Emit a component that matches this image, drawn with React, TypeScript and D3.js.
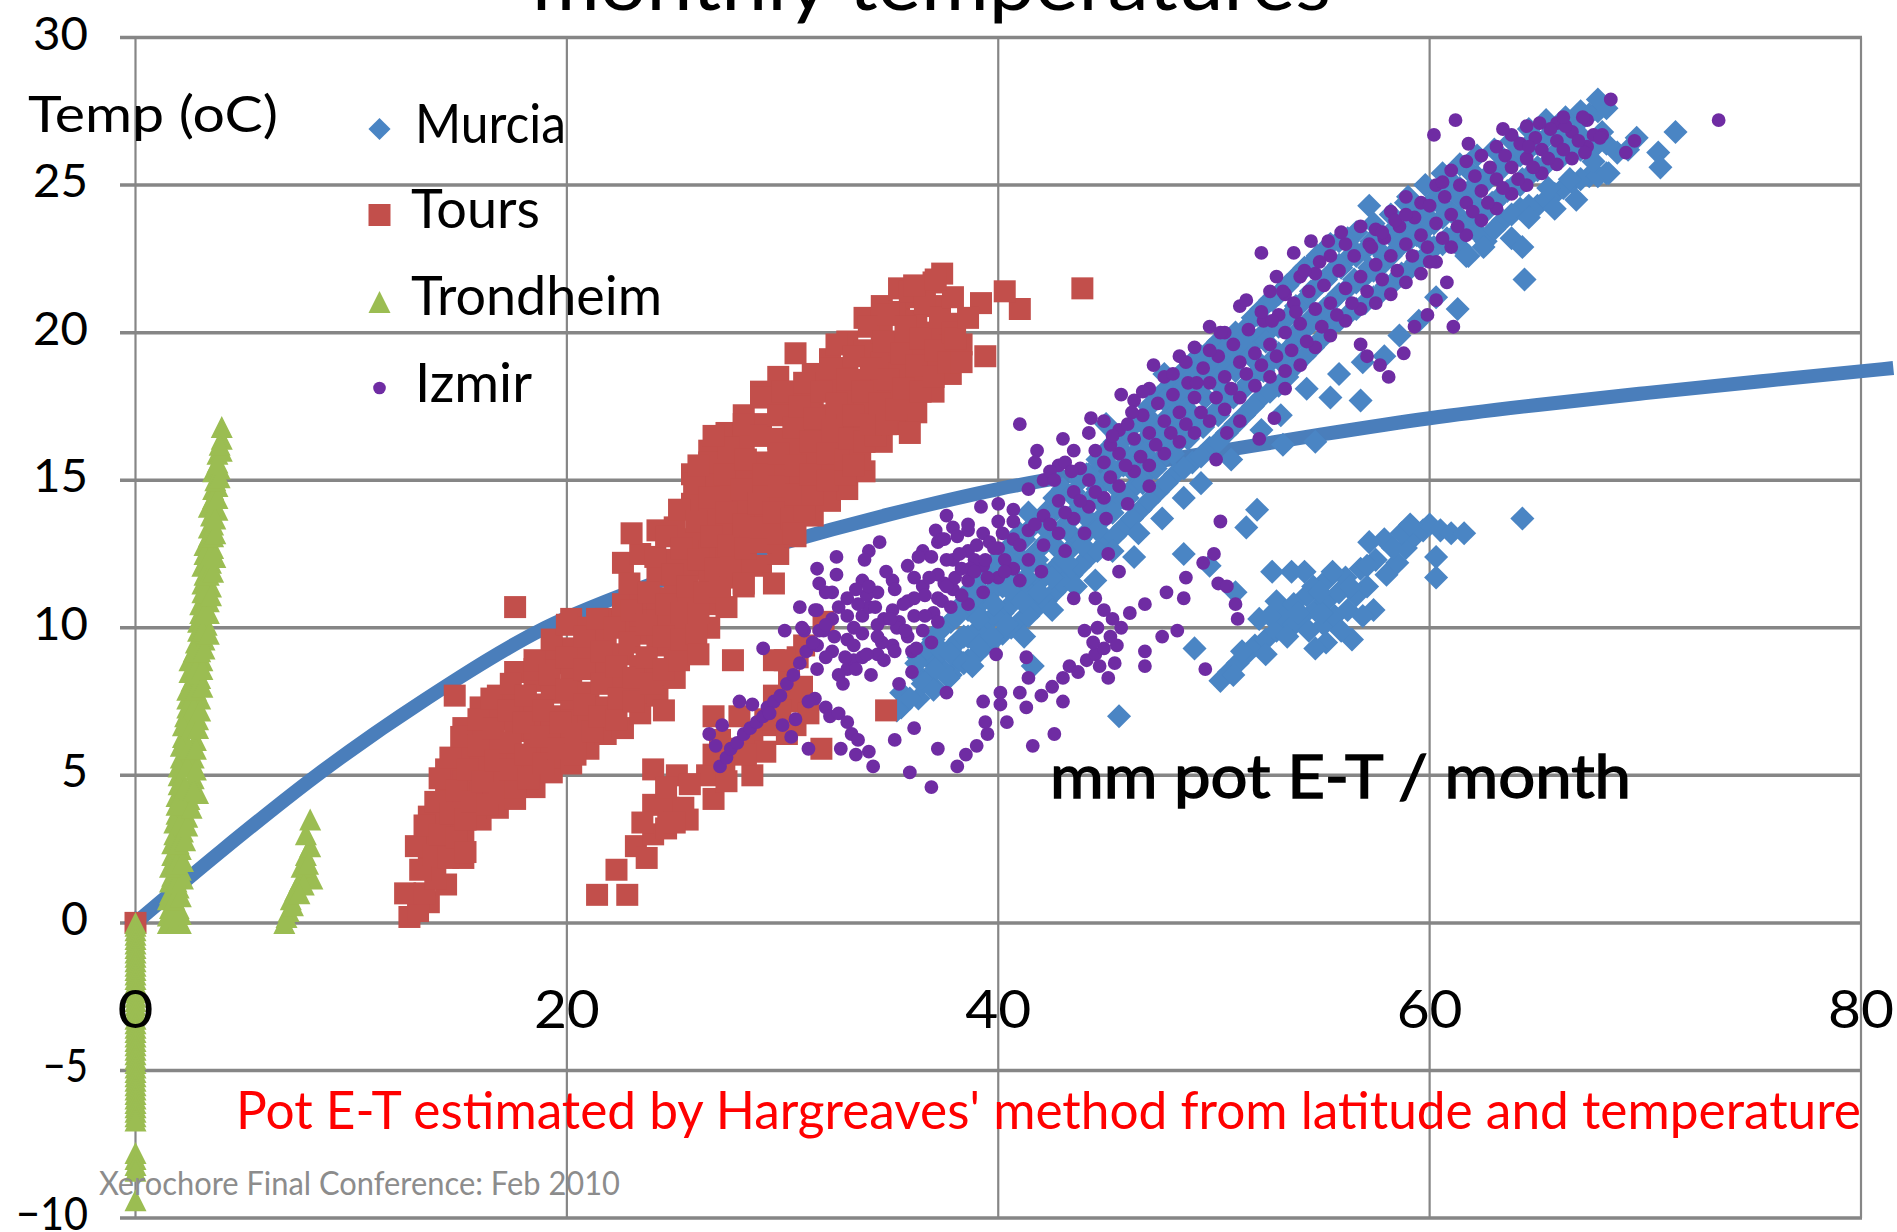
import React from 'react';
import * as d3 from 'd3';

const width = 1897;
const height = 1232;

const xTicks = [0, 20, 40, 60, 80];
const yTicks = [30, 25, 20, 15, 10, 5, 0, -5, -10];

const curve = [[0, 0], [4, 2.45], [8.4, 5], [13.5, 7.6], [19, 10], [24, 11.5], [29.7, 12.8], [35, 13.85], [40, 14.7], [45, 15.35], [50, 15.95], [55, 16.55], [60, 17.1], [65, 17.55], [70, 17.95], [76, 18.4], [81.5, 18.8]];

// columns: [x, y, y, y...]
const murciaColumns = [
  [0, 0],
  [35.5, 7.3, 7.8], [36.3, 7.6, 8.4, 9.0], [37, 8, 8.8, 9.6], [37.8, 8.4, 9.3, 10.2], [38.6, 8.9, 9.7, 10.6, 11.2], [39.4, 9.4, 10.2, 11.1, 12.0], [40.2, 9.8, 10.5, 11.4, 12.3], [41, 10.2, 11.3, 12.4, 13.2], [41.8, 10.7, 11.5, 12.6, 13.6], [42.6, 11.2, 12.0, 13.2, 14.4], [43.4, 11.8, 12.7, 13.7, 14.5], [44.2, 12.4, 13.3, 14.3, 15.2], [45, 12.9, 13.8, 15, 15.9], [45.8, 13.4, 14.4, 15.5, 16.4], [46.6, 14, 15.1, 16.2, 17], [47.4, 14.6, 15.6, 16.8, 17.8], [48.2, 15.2, 16.2, 17.4, 18.4], [49, 15.6, 16.7, 17.9, 19], [49.8, 16.1, 17.1, 18.5, 19.4], [50.6, 16.6, 17.7, 18.9, 19.8], [51.4, 17.2, 18.1, 19.3, 20.1], [52.2, 17.8, 18.9, 19.9, 20.8], [53, 18.2, 19.1, 20.2, 21.3], [53.8, 18.9, 19.7, 20.8, 21.9], [54.6, 19.5, 20.4, 21.4, 22.4], [55.4, 20.2, 21, 22, 23], [56.2, 20.6, 21.5, 22.5, 23.2], [57, 21, 21.9, 22.8], [57.8, 21.4, 22.3, 23.3], [58.6, 21.9, 22.9, 23.6], [59.4, 22.4, 23.3, 24], [60.2, 22.9, 23.7, 24.5], [61, 23.2, 24.1, 25], [61.8, 22.6, 23.6, 24.7, 25.5], [62.6, 23.1, 24.1, 25.1], [63.4, 23.8, 24.7, 25.6], [64.2, 24.2, 25, 26], [65, 24.3, 25.5, 26.4], [65.8, 24.7, 25.9, 26.8], [66.6, 25.1, 26.2, 27], [67.4, 25.3, 26.3, 27.4], [68.2, 25.4, 26.4, 27.6],
];

const murciaFill = [
  [36.7, 8.2, 9.3], [37.4, 8.6, 9.2, 10], [38.2, 8.9, 9.6, 10.7], [39, 9.1, 9.9, 10.7, 11.6], [39.8, 9.6, 10.4, 11.3, 12.2], [40.6, 10, 10.8, 11.8, 12.8], [41.4, 10.4, 11.2, 12.1, 13.3, 13.9], [42.2, 10.9, 11.8, 12.9, 13.9], [43, 11.5, 12.3, 13.4, 14.7], [43.8, 12.1, 13, 14.1, 15], [44.6, 12.6, 13.6, 14.7, 15.7], [45.4, 13.1, 14.2, 15.3, 16.3], [46.2, 13.7, 14.7, 15.8, 16.8], [47, 14.3, 15.3, 16.5, 17.5], [47.8, 14.9, 15.9, 17.1, 18.1], [48.6, 15.4, 16.5, 17.7, 18.7], [49.4, 15.8, 16.9, 18.2, 19.2], [50.2, 16.3, 17.4, 18.7, 19.7], [51, 16.9, 17.9, 19.1, 20], [51.8, 17.5, 18.5, 19.6, 20.5], [52.6, 18, 19, 20.1, 21.1], [53.4, 18.5, 19.4, 20.5, 21.6], [54.2, 19.2, 20.1, 21.1, 22.2], [55, 19.8, 20.7, 21.7, 22.7], [55.8, 20.4, 21.3, 22.3, 23.1], [56.6, 20.8, 21.7, 22.6, 23.4], [57.4, 21.2, 22.1, 23, 23.7], [58.2, 21.6, 22.6, 23.4, 24], [59, 22.1, 23.1, 23.8, 24.6], [59.8, 22.6, 23.5, 24.2, 25], [60.6, 23, 23.9, 24.8, 25.4], [61.4, 22.9, 23.9, 24.9, 25.7], [62.2, 23.4, 24.3, 25.3, 26], [63, 23.5, 24.4, 25.4, 26.2], [63.8, 24, 24.9, 25.8, 26.5], [64.6, 24.3, 25.3, 26.2, 26.9], [65.4, 24.5, 25.7, 26.6, 27.2], [66.2, 24.9, 26, 26.9], [67, 25.2, 26.2, 27.2], [67.8, 25.3, 26.4, 27.5],
];

const murciaMain = [
  [35.3, 7.2], [35.9, 7.6], [36.5, 8.1], [36.2, 8.8], [37.1, 8.6], [37.0, 7.9], [37.7, 8.3], [37.8, 9.1], [38.4, 8.8], [38.4, 9.7], [37.3, 9.9], [38.1, 10.4], [39.1, 9.4], [39.1, 10.3], [39.7, 9.7], [39.0, 11.1], [39.8, 10.8], [40.4, 10.1], [40.5, 11.3], [39.8, 11.8], [41.1, 10.9], [40.6, 12.2], [41.3, 11.7], [41.9, 11.2], [41.8, 12.3], [41.2, 13.0], [42.5, 11.7], [42.6, 12.8], [42.0, 13.5], [43.2, 12.2], [43.2, 13.3], [42.7, 14.0], [43.9, 12.8], [44.0, 13.8], [43.5, 14.6], [44.6, 13.3], [44.7, 14.3], [44.1, 15.2], [45.3, 13.9], [45.4, 14.8], [44.9, 15.7], [46.0, 14.4], [46.1, 15.4], [45.6, 16.1], [46.7, 14.9], [46.8, 15.9], [47.3, 15.4], [47.5, 16.4], [47.0, 17.1], [48.1, 15.9], [48.2, 16.9], [47.7, 17.7], [48.8, 16.4], [48.9, 17.3], [48.5, 18.1], [49.5, 16.8], [49.6, 17.8], [49.1, 18.6], [50.2, 17.2], [50.3, 18.2], [49.9, 19.1], [50.9, 17.8], [51.0, 18.7], [50.6, 19.5], [51.6, 18.3], [51.7, 19.2], [51.4, 19.8], [52.3, 18.7], [52.4, 19.7], [52.0, 20.6], [53.0, 19.3], [53.1, 20.3], [52.7, 21.1], [53.7, 19.9], [53.8, 20.9], [53.4, 21.6], [54.4, 20.4], [54.5, 21.4], [54.1, 22.1], [55.1, 20.8], [55.2, 21.8], [54.8, 22.6], [55.8, 21.3], [55.9, 22.2], [56.5, 21.8], [56.6, 22.7], [56.2, 23.1], [57.2, 22.2], [57.3, 23.1], [57.9, 22.6], [58.0, 21.6], [58.6, 23.0], [58.7, 22.0], [59.3, 23.4], [59.4, 22.4], [60.0, 23.8], [60.1, 22.8], [60.7, 24.2], [60.8, 23.2], [61.4, 24.6], [61.5, 23.6], [60.9, 25.2], [62.1, 25.0], [62.2, 24.0], [62.8, 25.4], [62.9, 24.4], [63.5, 25.8], [63.6, 24.8], [64.2, 26.2], [64.3, 25.2], [64.9, 26.6], [65.0, 25.6], [65.6, 27.0], [65.7, 26.0], [66.3, 27.3], [66.4, 26.3], [67.0, 27.5], [67.1, 26.6], [67.8, 27.9], [68.0, 26.8], [68.7, 26.1], [67.6, 25.8], [66.5, 25.2], [65.5, 24.9], [64.6, 23.9], [63.8, 23.2], [62.5, 22.9], [61.7, 22.6], [64.3, 22.9], [65.8, 24.2], [66.8, 24.5], [68.3, 25.4], [69.2, 26.2],
];

const murciaOutliers = [
  [71.4, 26.8], [70.6, 26.1], [70.7, 25.6], [69.6, 26.6], [64.4, 21.8], [61.3, 20.8], [57.2, 24.3], [58.9, 24.4], [60.5, 24.4], [59.6, 23.2], [45, 16.9], [47.7, 18.6], [45, 16], [51.5, 13.4], [52, 14], [49.8, 12.1], [48.6, 12.5], [46.3, 12.4], [44.5, 11.6], [41.6, 8.7], [38.8, 8.7], [45.6, 7], [49.1, 9.3], [51, 11.2], [54.7, 16.3], [53.2, 16.2], [56.8, 17.7], [55.8, 18.6], [55.4, 17.8], [57.9, 19.2], [58.6, 19.9], [59.5, 20.4], [60.3, 21.2], [56.9, 19.0], [54.3, 18.1], [53.1, 17.2], [52.2, 16.7], [50.8, 15.7], [49.4, 14.9], [48.6, 14.4], [47.6, 13.7], [46.5, 13.2], [45.3, 12.6], [43.6, 11.4], [42.5, 10.6], [41.2, 9.7],
];

const murciaLower = [
  [50.3, 8.2], [50.7, 8.5], [51.1, 8.8], [51.5, 9.1], [51.9, 9.4], [52.4, 9.6], [52.1, 10.3], [52.9, 9.9], [53.2, 10.4], [52.9, 10.9], [53.7, 10.1], [54.1, 10.4], [54.4, 9.9], [54.7, 10.6], [54.3, 11.1], [55.1, 10.1], [55.2, 10.9], [55.6, 10.4], [55.8, 11.2], [55.2, 11.6], [56.2, 10.6], [56.1, 11.7], [55.5, 11.9], [56.6, 11.1], [56.8, 12], [57.1, 11.4], [57.4, 10.6], [56.4, 9.6], [55.2, 9.5], [54.7, 9.3], [53.6, 11.9], [52.7, 11.9], [54.2, 11.9], [57.5, 12.3], [58, 11.8], [58.5, 12.2], [58.9, 12.7], [59.3, 13.1], [59.7, 13.3], [60, 13.5], [60.5, 13.3], [61, 13.2], [61.6, 13.2], [64.3, 13.7], [60.3, 12.4], [60.3, 11.7], [57.9, 13], [57.2, 12.9], [50.9, 8.4], [51.3, 9.2], [52.4, 9.1], [52.6, 10.4], [53.4, 9.7], [53.7, 10.8], [54.6, 11.4], [55, 10.5], [55.9, 9.9], [56.3, 11.4], [56.9, 10.4], [57.1, 12.1], [58.3, 12.7], [58.7, 13.2], [59.1, 13.5], [53.9, 10.5], [54.9, 11.2],
];

const toursColumns = [
  [0, 0],
  [13.6, 0.7, 1.9, 2.8, 3.6], [14.4, 1.3, 2.6, 3.4, 4.3, 5.2], [15.2, 2.2, 3.1, 3.9, 4.8, 5.7, 6.6], [16, 3.5, 4.4, 5.4, 6.4, 7.3], [16.8, 3.9, 4.9, 5.9, 6.9, 7.7], [17.6, 4.2, 5.6, 6.5, 7.5, 8.5], [18.5, 4.6, 5.3, 6.0, 6.6, 7.4, 8.2, 8.6], [19.3, 5.1, 5.6, 6.5, 7.0, 7.8, 8.8, 9.3], [20.2, 5.4, 6.1, 6.9, 7.6, 8.3, 9.3, 10.3], [21, 5.9, 6.8, 7.8, 8.9, 9.4, 10], [21.8, 6.4, 7.3, 8.5, 9.7, 10.3], [22.6, 6.6, 7.9, 8.3, 9.1, 10.2, 10.8, 12.2], [23.4, 7.1, 7.8, 8.7, 9.8, 10.4, 11, 12.5], [24.2, 7.7, 8.4, 9.4, 10.3, 11, 11.8, 13.3], [25, 8.3, 9.2, 10.2, 11.2, 12.3, 13.4], [25.8, 9.4, 10, 11, 12, 13, 14.2, 15.2], [26.6, 10, 10.8, 11.7, 12.6, 13.7, 15, 16], [27.4, 10.7, 11.7, 12.5, 13.4, 14.5, 15.6, 16.6], [28.2, 11.4, 12.2, 13.1, 14.1, 15.2, 16.3, 17.2], [29, 12.1, 13, 13.8, 14.7, 15.6, 16.9, 18], [29.8, 12.5, 13.5, 14.4, 15.4, 16.4, 17.6, 18.5], [30.6, 13.1, 14.1, 15, 16.1, 17.2, 18.0], [31.4, 13.8, 15, 15.8, 16.8, 17.6, 18.6], [32.2, 14.3, 15.4, 16.3, 17.2, 18.3, 19.1], [33, 14.7, 15.9, 16.9, 17.8, 18.8, 19.7], [33.8, 15.3, 16.7, 17.5, 18.4, 19.4, 20.5], [34.6, 16.3, 17.2, 18.1, 19, 20, 20.9], [35.4, 16.9, 17.8, 18.6, 19.6, 20.7, 21.5], [36.2, 17.3, 18.4, 19.3, 20.4, 21.2], [37, 18, 18.9, 20, 20.9, 21.7], [37.8, 18.6, 19.4, 20.3],
];

const toursMain = [
  [12.7, 0.2], [13.1, 0.4], [12.5, 1.0], [13.4, 1.0], [13.9, 1.5], [13.2, 1.8], [13.0, 2.6], [13.8, 2.3], [14.5, 2.2], [13.4, 3.3], [14.1, 3.0], [14.9, 2.9], [13.9, 4.1], [14.6, 3.7], [15.3, 3.5], [14.1, 4.9], [14.9, 4.5], [15.6, 4.1], [16.3, 4.0], [14.6, 5.6], [15.4, 5.2], [16.1, 4.8], [16.9, 4.4], [17.6, 4.6], [15.1, 6.3], [15.9, 6.0], [16.7, 5.5], [17.4, 5.2], [18.2, 4.9], [15.9, 6.9], [16.6, 6.6], [17.4, 6.1], [18.1, 5.7], [18.9, 5.4], [16.5, 7.6], [17.3, 7.2], [18.0, 6.8], [18.8, 6.3], [19.6, 5.9], [20.4, 5.7], [17.4, 8.1], [18.1, 7.7], [18.9, 7.2], [19.7, 6.8], [20.4, 6.4], [21.2, 6.5], [18.5, 8.9], [19.2, 8.4], [20.0, 7.9], [20.8, 7.4], [21.5, 7.0], [22.3, 6.9], [19.3, 9.6], [20.0, 9.0], [20.8, 8.6], [21.6, 8.1], [22.4, 7.6], [23.1, 7.5], [20.0, 10.1], [20.8, 9.7], [21.6, 9.2], [22.3, 8.7], [23.1, 8.3], [23.9, 8.1], [21.4, 10.3], [22.2, 10.0], [22.9, 9.5], [23.7, 9.0], [24.5, 8.6], [25.2, 8.9], [23.0, 10.6], [23.7, 10.1], [24.5, 9.7], [25.3, 9.6], [26.0, 9.8], [22.9, 11.5], [23.8, 11.2], [24.6, 10.8], [25.3, 10.5], [26.1, 10.5], [24.1, 12.4], [24.9, 11.8], [25.6, 11.4], [26.4, 11.2], [27.1, 11.4], [24.6, 13.1], [25.3, 12.7], [26.1, 12.3], [26.9, 12.0], [27.6, 12.1], [25.2, 14.0], [26.0, 13.6], [26.7, 13.1], [27.5, 12.8], [28.3, 12.7], [29.0, 12.9], [25.9, 14.9], [26.6, 14.4], [27.4, 13.9], [28.2, 13.5], [29.0, 13.4], [29.8, 13.2], [26.6, 15.6], [27.3, 15.2], [28.1, 14.7], [28.9, 14.2], [29.6, 13.9], [30.4, 13.7], [31.0, 14.0], [27.5, 16.1], [28.3, 15.7], [29.1, 15.2], [29.8, 14.8], [30.6, 14.5], [31.4, 14.5], [28.2, 16.9], [29.0, 16.5], [29.8, 15.9], [30.6, 15.5], [31.3, 15.2], [32.1, 15.0], [32.9, 15.2], [29.0, 17.8], [29.8, 17.2], [30.5, 16.8], [31.3, 16.3], [32.1, 15.9], [32.9, 15.7], [33.6, 15.7], [30.0, 18.0], [30.8, 17.5], [31.5, 17.1], [32.3, 16.7], [33.1, 16.4], [33.8, 16.3], [34.3, 16.5], [31.0, 18.3], [31.8, 18.0], [32.5, 17.6], [33.3, 17.2], [34.1, 16.9], [34.8, 16.9], [32.2, 18.8], [33.0, 18.4], [33.7, 18.0], [34.5, 17.6], [35.3, 17.4], [36.0, 17.6], [32.5, 19.6], [33.3, 19.2], [34.1, 18.8], [34.9, 18.4], [35.6, 18.1], [36.4, 18.0], [34.0, 20.2], [34.7, 19.7], [35.5, 19.3], [36.2, 18.9], [37.0, 18.5], [34.9, 20.6], [35.7, 20.2], [36.4, 19.8], [37.1, 19.4], [37.7, 19.0], [35.9, 21.4], [36.6, 21.0], [37.3, 20.5], [37.9, 20.0], [38.3, 19.6],
];

const toursLower = [
  [21.4, 0.95], [22.8, 0.95], [22.3, 1.8], [23.2, 2.6], [23.7, 2.2], [24, 3], [24.6, 3.2], [25.6, 3.5], [24, 4], [24.7, 3.9], [25.4, 3.9], [26.8, 4.2], [26.5, 5], [25.1, 5], [24, 5.2], [25.7, 4.7], [27.7, 5.9], [28.6, 5], [26.8, 5.7], [27.3, 5.4], [26.8, 7], [27.1, 6.2], [28, 7], [28.6, 6.2], [29.2, 5.8], [29.6, 6.7], [30.2, 6.4], [30.6, 6.7], [29.6, 7.7], [30.5, 7.5], [31.2, 7.1], [30.3, 8.2], [29.6, 8.9], [30.7, 9.0], [31, 9.4], [31.9, 10.2], [29.2, 6.9], [28.3, 5.7], [27.4, 4.8], [24.6, 4.6], [23.5, 3.4], [25, 3.4], [29.9, 7.2], [30.9, 8.0], [30.1, 8.9],
];

const toursOutliers = [
  [34.8, 7.2], [26.1, 9.1], [27.7, 8.9], [24.5, 7.2], [28.2, 11.5], [29.6, 11.5], [30.5, 13.2], [33.3, 15.5], [35.9, 16.6], [30.6, 19.3], [26.8, 16.5], [26.1, 15.5], [23, 13.2], [17.6, 10.7], [14.8, 7.7], [15.3, 2.4], [43.9, 21.5], [41, 20.8], [40.3, 21.4], [38.3, 19], [37.4, 22], [36.1, 21.6], [39.2, 21], [38, 19.8], [31.8, 5.9], [38.6, 20.5], [37.9, 21.2], [39.4, 19.2], [37.1, 21.8],
];

const trondheimMain = [
  [0, 0], [1.5, 0], [1.9, 0], [2.1, 0], [1.6, 0.5], [2.0, 0.5], [1.6, 1.0], [2.0, 1.2], [1.7, 1.6], [2.1, 1.8], [1.7, 2.3], [2.1, 2.5], [1.8, 3.0], [2.2, 3.1], [1.9, 3.7], [2.4, 3.6], [1.9, 4.3], [2.5, 4.2], [2.0, 5.0], [2.7, 4.9], [2.9, 4.4], [2.1, 5.6], [2.7, 5.6], [2.2, 6.3], [2.8, 6.2], [2.3, 7.0], [2.9, 6.9], [2.4, 7.6], [3.0, 7.6], [2.6, 8.2], [3.0, 8.3], [2.5, 8.9], [3.1, 8.9], [2.8, 9.5], [3.2, 9.6], [2.9, 10.2], [3.3, 10.1], [3.0, 10.8], [3.4, 10.9], [3.1, 11.5], [3.5, 11.4], [3.1, 12.1], [3.5, 12.2], [3.2, 12.8], [3.6, 12.7], [3.4, 13.4], [3.6, 13.5], [3.4, 14.1], [3.8, 14.0], [3.6, 14.7], [3.8, 14.8], [3.6, 15.3], [3.9, 15.4], [3.8, 15.9], [4.0, 16.0], [4.0, 16.4], [4.0, 16.8],
  [1.5, 0.25], [1.8, 0.3], [2.1, 0.3], [1.5, 0.8], [1.8, 0.8], [2.1, 0.9], [1.6, 1.4], [1.9, 1.4], [2.2, 1.5], [1.6, 1.9], [1.9, 2.0], [2.2, 2.1], [1.7, 2.7], [2.0, 2.7], [2.3, 2.8], [1.8, 3.4], [2.1, 3.4], [2.4, 3.3], [1.9, 4.0], [2.2, 4.0], [2.6, 3.9], [2.0, 4.7], [2.3, 4.6], [2.7, 4.5], [2.0, 5.3], [2.4, 5.3], [2.8, 5.2], [2.1, 6.0], [2.5, 5.9], [2.8, 5.9], [2.2, 6.7], [2.6, 6.6], [2.9, 6.6], [2.4, 7.3], [2.7, 7.3], [3.0, 7.2], [2.4, 7.9], [2.8, 7.9], [3.1, 8.0], [2.5, 8.5], [2.8, 8.6], [3.1, 8.6], [2.7, 9.2], [3.0, 9.2], [3.2, 9.3], [2.9, 9.9], [3.1, 9.9], [3.4, 9.8], [3.0, 10.5], [3.2, 10.5], [3.4, 10.5], [3.1, 11.2], [3.3, 11.2], [3.5, 11.1], [3.2, 11.8], [3.4, 11.8], [3.6, 11.9], [3.2, 12.5], [3.5, 12.5], [3.7, 12.4], [3.4, 13.1], [3.6, 13.1], [3.7, 13.2], [3.5, 13.8], [3.7, 13.7], [3.6, 14.4], [3.8, 14.4], [3.7, 15.0], [3.9, 15.1], [3.8, 15.6], [3.9, 16.2],
];

const trondheimSmall = [
  [6.9, 0], [7.1, 0.4], [7.2, 0.8], [7.4, 1.1], [7.6, 1.4], [8, 1.6], [8.2, 1.5], [7.7, 1.9], [7.9, 2.3], [8.1, 2.6], [7.9, 3], [8.1, 3.5], [7.0, 0.2], [7.3, 0.6], [7.8, 1.3], [8.0, 2.0], [7.6, 1.0],
];

const trondheimColumn = [
  -0.1, -0.25, -0.4, -0.55, -0.7, -0.85, -1, -1.15, -1.3, -1.45, -1.6, -1.75, -1.9, -2.05, -2.2, -2.35, -2.5, -2.65, -2.8, -2.95, -3.1, -3.25, -3.4, -3.55, -3.7, -3.85, -4, -4.15, -4.3, -4.45, -4.6, -4.75, -4.9, -5.05, -5.2, -5.35, -5.5, -5.65, -5.8, -5.95, -6.1, -6.25, -6.4, -6.55, -6.7, -7.8, -8, -8.2, -8.4, -9.4,
];

const izmirColumns = [
  [31.6, 8.6, 9.4, 10.6], [32.3, 9.2, 10.3, 11.2], [33, 8.6, 9.6, 11], [33.7, 9.8, 10.4, 11.6], [34.4, 9.1, 10.1, 11.2], [35.1, 9.4, 10.6, 11.6], [35.8, 9.7, 10.9, 12.1], [36.5, 9.9, 11.4, 12.6], [37.2, 11, 11.8, 12.9], [37.9, 11.3, 12.3, 13.4], [38.6, 10.8, 11.6, 12.6, 13.3], [39.3, 11.2, 12.1, 13.2], [40, 11.7, 12.7, 13.6, 14.2], [40.7, 12, 13, 14], [41.4, 12.3, 13.3, 14.7], [42.1, 12.8, 13.8, 15], [42.8, 13.2, 14.3, 15.5], [43.5, 13.7, 14.6, 16], [44.2, 14.1, 15, 16.6], [44.9, 14.4, 15.6, 17], [45.6, 14.8, 15.9, 16.7], [46.3, 15.3, 16.4, 17.7], [47, 15.5, 16.6, 18.1], [47.7, 15.9, 17, 18.5], [48.4, 16.3, 17.3, 19.2], [49.1, 16.6, 17.8, 19.5], [49.8, 17, 18.3, 20.2], [50.5, 17.4, 18.5, 20], [51.2, 17.8, 19, 20.9], [51.9, 18.2, 19.3], [52.6, 18.5, 19.6, 21.4], [53.3, 18.7, 20, 21.3], [54, 18.9, 20.3, 21.9], [54.7, 19.5, 20.8, 22], [55.4, 19.9, 21, 22.6], [56.1, 20.4, 21.5, 23], [56.8, 20.8, 21.9, 23.6], [57.5, 21, 22.3, 23.5], [58.2, 21.3, 22.6, 24.1], [58.9, 21.7, 23, 24.6], [59.6, 22, 23.3, 24.4], [60.3, 22.4, 23.7, 25], [61, 22.9, 24, 25.5], [61.7, 23.3, 24.4, 25.8], [62.4, 23.8, 24.8, 26], [63.1, 24.2, 25.2, 26.3], [63.8, 24.7, 25.6, 26.7], [64.5, 25, 25.9, 27], [65.2, 25.4, 26.2], [65.9, 25.7, 26.5, 27.1], [66.6, 25.9, 26.8], [67.3, 26.3, 27.2], [68, 26.7],
];

const izmirStrand = [
  [31.9, 9.9], [32.6, 10.7], [33.3, 10], [34, 10.7], [34.7, 10.3], [35.4, 10.2], [36.1, 11], [36.8, 11.7], [37.5, 11.5], [38.2, 12.5], [38.9, 12.3], [39.6, 12.9], [40.3, 12.3], [41, 12.8], [41.7, 13.5], [42.4, 13.5], [43.1, 13.9], [43.8, 14.3], [44.5, 14.6], [45.2, 15.1], [45.9, 15.5], [46.6, 15.8], [47.3, 16.2], [48, 16.6], [48.7, 16.9], [49.4, 17.3], [50.1, 17.8], [50.8, 18.1], [51.5, 18.6], [52.2, 18.9], [52.9, 19.2], [53.6, 19.4], [54.3, 19.7], [55, 20.2], [55.7, 20.6], [56.4, 21], [57.1, 21.4], [57.8, 21.8], [58.5, 22.1], [59.2, 22.6], [59.9, 22.9], [60.6, 23.2], [61.3, 23.6], [62, 24.1], [62.7, 24.4], [63.4, 24.9], [64.1, 25.2], [64.8, 25.6], [65.5, 25.9], [66.2, 26.2], [66.9, 26.5], [67.6, 26.7],
  [42.4, 15.3], [43.1, 15.6], [43.8, 15.4], [44.5, 16], [45.2, 16.2], [46, 16.9], [46.7, 17.2], [47.4, 17.6], [48.1, 17.9], [48.8, 18.3], [49.5, 18.8], [50.2, 19.2], [50.9, 19.6], [51.6, 20.1], [52.3, 20.4], [53, 20.6], [53.7, 21], [54.4, 21.4], [55.1, 21.6], [55.8, 22.1], [56.5, 22.6], [57.2, 23], [57.9, 23.2], [58.6, 23.6], [59.3, 23.9], [60, 24.3], [60.7, 24.6], [61.4, 25], [62.1, 25.3], [62.8, 25.6], [63.5, 26], [64.2, 26.4], [64.9, 26.6], [65.6, 26.9], [66.3, 27],
  [31, 9.9], [32, 9], [33.3, 8.9], [33.7, 9], [34.6, 9.5], [35.3, 10], [36, 9.2], [37, 10.5], [37.4, 10.9], [38, 11.7], [38.7, 12], [39.5, 11.7], [40.3, 11.9], [41, 11.6], [42, 11.9], [43.1, 12.6], [44, 13.2], [45, 13.7], [46, 14.2], [47, 14.8],
];

const izmirLeft = [
  [27.1, 5.3], [27.4, 5.6], [27.6, 5.9], [27.9, 6.1], [28.2, 6.4], [28.5, 6.6], [28.8, 6.8], [29.1, 7.0], [29.3, 7.3], [29.6, 7.5], [29.9, 7.7], [30.2, 8.1], [30.5, 8.4], [30.8, 8.8], [31.1, 9.2], [31.4, 9.5], [31.7, 9.9], [32.0, 10.1], [26.6, 6.4], [27.2, 6.7], [26.9, 6], [28, 7.5], [28.6, 7.4], [29.4, 7.1], [30, 6.7], [30.4, 6.3], [30.6, 6.9], [31.2, 5.9], [31.5, 7.6], [32, 7.3], [31.2, 7.5], [32.2, 7], [32.6, 7.1], [33, 6.8], [33.2, 6.4], [33.5, 6.2], [32.7, 5.9], [33.4, 5.7], [34, 5.8], [34.2, 5.3], [35.2, 6.2], [35.9, 5.1], [29.1, 9.3], [30.1, 9.9], [30.9, 10], [30.8, 10.7], [31.5, 10.6], [32, 11.2], [32.5, 12.4], [32.5, 11.8], [33.5, 10.8], [33.9, 11.1], [34.3, 10.7], [35, 10.3], [34.4, 9.7], [33.9, 9.1], [33.3, 9.4], [32.9, 9.0], [32.6, 8.4], [32.8, 8.1], [33.4, 8.6], [34.1, 8.4], [34.7, 8.9], [35.2, 9.2], [35.7, 9.9], [36.1, 10.4], [35.6, 10.8], [36.6, 11.1], [36.1, 11.7], [35.2, 11.3], [34.8, 11.9], [34, 11.4], [33.4, 11.3], [33, 10.4], [32.4, 9.7], [36.9, 12.4], [36.3, 12.4], [37.6, 12.3], [37.1, 13.3], [37.4, 13.0], [38.1, 13.1], [38.6, 13.5], [39, 12.8], [38.3, 12], [37.6, 11.4], [36.6, 10.4], [36.2, 9.3], [36, 8.5], [35.4, 8.1], [36.9, 9.5], [37.2, 10.2], [37.8, 10.7], [38.3, 11.1], [38.9, 11.9], [39.4, 12.3], [39.8, 12.7], [40.2, 13.2], [40.7, 13.6], [34.5, 12.9], [34, 12.6], [33.8, 12.3], [31.6, 12], [31.7, 11.5], [37.5, 13], [37.6, 13.8], [39.2, 14.1],
];

const izmirLowerScatter = [
  [36.9, 4.6], [38.1, 5.3], [38.5, 5.7], [39, 6], [39.5, 6.4], [40.4, 6.8], [39.4, 6.8], [37.2, 5.9], [36.1, 6.6], [41.6, 6], [42.6, 6.4], [39.3, 7.5], [40.1, 7.8], [40.1, 7.4], [41, 7.8], [41.3, 7.3], [37.6, 7.8], [39.9, 9.1], [41.3, 9], [41.4, 8.3], [43, 7.5], [42, 7.7], [42.5, 8], [43, 8.3], [43.3, 8.7], [43.7, 8.5], [44.1, 8.9], [44.5, 9.1], [44.9, 9.3], [45.2, 9.7], [45.5, 9.4], [45.7, 10], [45.3, 10.3], [44.6, 10], [44.4, 9.5], [45.1, 8.3], [44.7, 8.7], [45.4, 8.8], [46.8, 9.2], [46.8, 8.7], [47.6, 9.7], [48.3, 9.9], [49.6, 8.6], [44, 9.9], [43.5, 11], [44.5, 11], [44.9, 10.6], [46.1, 10.5], [46.8, 10.8], [47.8, 11.2], [48.6, 11], [48.7, 11.7], [50.2, 11.5], [50.6, 11.4], [51, 10.8], [51.1, 10.3], [49.5, 12.2], [50, 12.5], [50.3, 13.6], [45.6, 11.9], [45.1, 12.5],
];

const izmirUpperScatter = [
  [41, 16.9], [41.8, 16], [41.7, 15.6], [43, 16.4], [44.3, 17.1], [45.3, 16.5], [43.4, 15.3], [42.6, 15], [46.2, 17.3], [45.7, 17.9], [46.7, 18], [47.2, 18.9], [48.1, 18.6], [48.7, 19], [49.2, 18.3], [50.3, 20], [49.8, 19.4], [51.5, 21.1], [52.2, 20.7], [52.7, 20.4], [53.8, 20.7], [53.2, 21.4], [54.2, 22.1], [54.9, 22.4], [55.3, 23.1], [55.9, 23.4], [54.5, 23.1], [53.7, 22.7], [52.2, 22.7], [52.9, 21.9], [57.3, 22.9], [57.8, 23.4], [58.4, 23.8], [58.9, 24], [61.1, 20.2], [60, 22.4], [60.6, 25.1], [60.2, 26.7], [61.2, 27.2], [61.8, 26.4], [63.4, 26.9], [64.6, 26.3], [65.1, 27.1], [66.2, 27.3], [67.1, 27.3], [68.4, 27.9], [73.4, 27.2], [69.1, 26.1], [69.5, 26.5], [67.9, 26.6], [67.2, 26.1], [56.8, 19.6], [57.1, 19.2], [57.7, 18.9], [58.1, 18.5], [58.8, 19.3], [59.3, 20.2], [59.9, 20.6], [60.3, 21.1], [60.8, 21.7], [52.1, 16.4], [52.8, 17.1], [53.3, 18.1], [50.1, 15.7], [50.6, 16.6], [51.2, 17],
];

const flatten = (cols: number[][]) => cols.flatMap(c => c.slice(1).map(v => [c[0], v]));

const x = d3.scaleLinear().domain([0, 80]).range([135.5, 1861]);
const y = d3.scaleLinear().domain([30, -10]).range([37.5, 1218]);

const curvePath = d3.line<number[]>().x(d => x(d[0])).y(d => y(d[1])).curve(d3.curveMonotoneX);

// Excel's triangle marker is a bit taller than an equilateral one
const tallTriangle = {
  draw(ctx: any, size: number) {
    const r = Math.sqrt(size) / 2;
    ctx.moveTo(0, -r);
    ctx.lineTo(r, r);
    ctx.lineTo(-r, r);
    ctx.closePath();
  },
};

const diamondPath = d3.symbol().type(d3.symbolSquare).size(290)()!;
const squarePath = d3.symbol().type(d3.symbolSquare).size(484)()!;
const trianglePath = d3.symbol().type(tallTriangle as any).size(484)()!;
const dotPath = d3.symbol().type(d3.symbolCircle).size(150)()!;
const legendDiamond = d3.symbol().type(d3.symbolSquare).size(245)()!;
const legendDot = d3.symbol().type(d3.symbolCircle).size(125)()!;

const colors = { murcia: '#4a85c4', tours: '#c24f4b', trondheim: '#9bbd52', izmir: '#6f2ca3', curve: '#4a7ebb', grid: '#868686' };

const legend = [
  { label: 'Murcia', markX: 379.5, markY: 129, textX: 415, baseline: 143, w: 151 },
  { label: 'Tours', markX: 379.5, markY: 215, textX: 411, baseline: 228, w: 129 },
  { label: 'Trondheim', markX: 379.5, markY: 302, textX: 411, baseline: 315, w: 251 },
  { label: 'Izmir', markX: 379.5, markY: 388, textX: 415, baseline: 402, w: 117 },
];

const Marks = ({ points, d, fill, rotate = 0 }: { points: number[][]; d: string; fill: string; rotate?: number }) => (
  <g fill={fill}>
    {points.map((p, i) => (
      <path key={i} d={d} transform={`translate(${x(p[0])},${y(p[1])}) rotate(${rotate})`} />
    ))}
  </g>
);

const yLabelWidth = (t: number) => (t === -10 ? 72 : t === -5 ? 45 : Math.abs(t) < 10 ? 27 : 55);

export default function App() {
  return (
    <svg width={width} height={height} style={{ position: 'absolute', left: 0, top: 0, display: 'block', background: '#fff' }} fontFamily="Lato, 'Open Sans', sans-serif">
      <text x={532} y={9.5} fontSize={76} textLength={799} lengthAdjust="spacingAndGlyphs">monthly temperatures</text>

      {yTicks.map(t => (
        <line key={t} x1={120} x2={1862} y1={y(t)} y2={y(t)} stroke={colors.grid} strokeWidth={3.5} />
      ))}
      {xTicks.map(t => (
        <line key={t} x1={x(t)} x2={x(t)} y1={y(30)} y2={y(-10)} stroke={colors.grid} strokeWidth={2.2} />
      ))}

      <path d={curvePath(curve)!} fill="none" stroke={colors.curve} strokeWidth={14} />

      <Marks points={flatten(murciaColumns)} d={diamondPath} fill={colors.murcia} rotate={45} />
      <Marks points={flatten(murciaFill)} d={diamondPath} fill={colors.murcia} rotate={45} />
      <Marks points={murciaMain} d={diamondPath} fill={colors.murcia} rotate={45} />
      <Marks points={murciaOutliers} d={diamondPath} fill={colors.murcia} rotate={45} />
      <Marks points={murciaLower} d={diamondPath} fill={colors.murcia} rotate={45} />
      <Marks points={flatten(toursColumns)} d={squarePath} fill={colors.tours} />
      <Marks points={toursMain} d={squarePath} fill={colors.tours} />
      <Marks points={toursLower} d={squarePath} fill={colors.tours} />
      <Marks points={toursOutliers} d={squarePath} fill={colors.tours} />
      <Marks points={trondheimMain} d={trianglePath} fill={colors.trondheim} />
      <Marks points={trondheimSmall} d={trianglePath} fill={colors.trondheim} />
      <Marks points={trondheimColumn.map(v => [0, v])} d={trianglePath} fill={colors.trondheim} />
      <Marks points={flatten(izmirColumns)} d={dotPath} fill={colors.izmir} />
      <Marks points={izmirStrand} d={dotPath} fill={colors.izmir} />
      <Marks points={izmirLeft} d={dotPath} fill={colors.izmir} />
      <Marks points={izmirLowerScatter} d={dotPath} fill={colors.izmir} />
      <Marks points={izmirUpperScatter} d={dotPath} fill={colors.izmir} />

      {yTicks.map(t => (
        <text key={t} x={88} y={y(t) + 12} fontSize={47} textAnchor="end" textLength={yLabelWidth(t)} lengthAdjust="spacingAndGlyphs">
          {t < 0 ? `\u2212${-t}` : t}
        </text>
      ))}
      {xTicks.map(t => (
        <text key={t} x={x(t)} y={1028} fontSize={52} textAnchor="middle" textLength={t === 0 ? 36 : 66} lengthAdjust="spacingAndGlyphs">{t}</text>
      ))}

      <text x={28} y={132} fontSize={50} textLength={250} lengthAdjust="spacingAndGlyphs">Temp (oC)</text>

      {legend.map(l => (
        <text key={l.label} x={l.textX} y={l.baseline} fontSize={54} textLength={l.w} lengthAdjust="spacingAndGlyphs">{l.label}</text>
      ))}
      <path d={legendDiamond} fill={colors.murcia} transform={`translate(${legend[0].markX},${legend[0].markY}) rotate(45)`} />
      <path d={squarePath} fill={colors.tours} transform={`translate(${legend[1].markX},${legend[1].markY})`} />
      <path d={trianglePath} fill={colors.trondheim} transform={`translate(${legend[2].markX},${legend[2].markY})`} />
      <path d={legendDot} fill={colors.izmir} transform={`translate(${legend[3].markX},${legend[3].markY})`} />

      <text x={1050} y={798} fontSize={60} stroke="#000" strokeWidth={1.4} textLength={581} lengthAdjust="spacingAndGlyphs">mm pot E-T / month</text>
      <text x={236} y={1129} fontSize={52} fill="#ff0000" textLength={1625} lengthAdjust="spacingAndGlyphs">Pot E-T estimated by Hargreaves' method from latitude and temperature</text>
      <text x={99} y={1195} fontSize={32} fill="#8c8c8c" textLength={521} lengthAdjust="spacingAndGlyphs">Xerochore Final Conference: Feb 2010</text>
    </svg>
  );
}
